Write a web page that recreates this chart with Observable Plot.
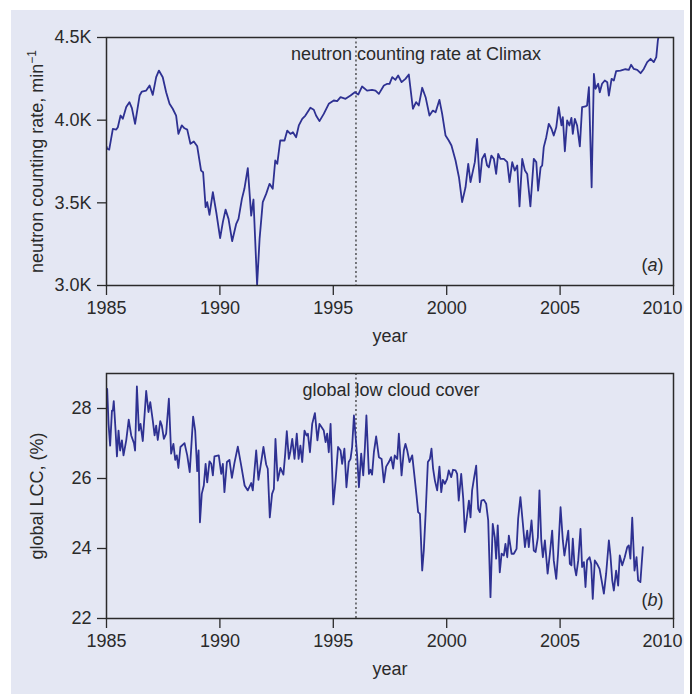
<!DOCTYPE html>
<html>
<head>
<meta charset="utf-8">
<script src="https://cdn.jsdelivr.net/npm/d3@7"></script>
<script src="https://cdn.jsdelivr.net/npm/@observablehq/plot@0.6"></script>
<style>
html, body { margin: 0; padding: 0; background: #ffffff; overflow: hidden; }
#page { position: relative; width: 699px; height: 694px; }
#bg { position: absolute; left: 11px; top: 10px; width: 673px; height: 684px; background: #e4e7f3; }
#edge { position: absolute; left: 690px; top: 0; width: 2px; height: 694px; background: #2b2b2b; }
.panel { position: absolute; left: 0; }
</style>
</head>
<body>
<div id="page">
  <div id="bg"></div>
  <div id="edge"></div>
  <div id="pa" class="panel" style="top:0px"></div>
  <div id="pb" class="panel" style="top:340px"></div>
</div>
<script>
// ---------- data ----------
const xTicks = [1985, 1990, 1995, 2000, 2005, 2010];
const xTickLabels = ["1985", "1990", "1995", "2000", "2005", "2010"];
const markerYear = [1996];

const yTicksA = [3000, 3500, 4000, 4500];
const yTickLabelsA = ["3.0K", "3.5K", "4.0K", "4.5K"];
const yTicksB = [22, 24, 26, 28];
const yTickLabelsB = ["22", "24", "26", "28"];

const titleA = "neutron counting rate at Climax";
const titleB = "global low cloud cover";
const yLabelA = "neutron counting rate, min";
const yLabelASup = "\u22121";
const yLabelB = "global LCC, (%)";
const xLabel = "year";
const tagA = "(a)";
const tagB = "(b)";

// neutron counting rate at Climax (counts per minute)
const neutronYear = [
  1985.00, 1985.03, 1985.12, 1985.28, 1985.43, 1985.50, 1985.62, 1985.72, 1985.87, 1986.01,
  1986.12, 1986.26, 1986.46, 1986.56, 1986.75, 1986.90, 1987.04, 1987.19, 1987.31, 1987.48,
  1987.63, 1987.78, 1987.92, 1988.07, 1988.17, 1988.32, 1988.44, 1988.56, 1988.70, 1988.85,
  1989.00, 1989.17, 1989.26, 1989.37, 1989.44, 1989.54, 1989.69, 1989.84, 1990.01, 1990.13,
  1990.25, 1990.38, 1990.54, 1990.72, 1990.82, 1990.97, 1991.08, 1991.23, 1991.38, 1991.48,
  1991.56, 1991.64, 1991.75, 1991.89, 1992.04, 1992.19, 1992.33, 1992.44, 1992.53, 1992.66,
  1992.85, 1992.97, 1993.11, 1993.22, 1993.36, 1993.48, 1993.63, 1993.77, 1993.99, 1994.14,
  1994.24, 1994.39, 1994.58, 1994.80, 1995.02, 1995.17, 1995.32, 1995.54, 1995.76, 1995.95,
  1996.10, 1996.27, 1996.49, 1996.71, 1996.86, 1997.01, 1997.23, 1997.38, 1997.48, 1997.60,
  1997.74, 1997.86, 1998.01, 1998.18, 1998.33, 1998.51, 1998.65, 1998.77, 1998.92, 1999.07,
  1999.24, 1999.39, 1999.51, 1999.68, 1999.80, 1999.95, 2000.09, 2000.21, 2000.39, 2000.54,
  2000.68, 2000.83, 2000.95, 2001.05, 2001.24, 2001.34, 2001.46, 2001.56, 2001.68, 2001.78,
  2001.86, 2001.97, 2002.08, 2002.18, 2002.27, 2002.37, 2002.52, 2002.67, 2002.77, 2002.89,
  2003.00, 2003.11, 2003.21, 2003.33, 2003.45, 2003.55, 2003.69, 2003.84, 2003.95, 2004.03,
  2004.14, 2004.21, 2004.28, 2004.39, 2004.50, 2004.62, 2004.72, 2004.83, 2004.94, 2005.06,
  2005.12, 2005.21, 2005.31, 2005.41, 2005.50, 2005.56, 2005.65, 2005.75, 2005.87, 2005.97,
  2006.12, 2006.19, 2006.27, 2006.39, 2006.49, 2006.56, 2006.68, 2006.75, 2006.85, 2006.97,
  2007.08, 2007.15, 2007.27, 2007.37, 2007.47, 2007.66, 2007.88, 2008.03, 2008.13, 2008.25,
  2008.40, 2008.55, 2008.69, 2008.84, 2008.99, 2009.13, 2009.24, 2009.31, 2009.35, 2009.45
];
const neutronRate = [
  3840, 3827, 3822, 3947, 3943, 3957, 4028, 4008, 4079, 4109,
  4073, 3978, 4149, 4173, 4179, 4210, 4153, 4260, 4300, 4260,
  4169, 4099, 4069, 4028, 3917, 3968, 3951, 3943, 3857, 3871,
  3842, 3695, 3685, 3474, 3504, 3427, 3564, 3443, 3286, 3383,
  3459, 3403, 3268, 3373, 3403, 3524, 3585, 3710, 3423, 3520,
  3262, 3004, 3282, 3504, 3554, 3615, 3585, 3756, 3736, 3877,
  3877, 3937, 3917, 3927, 3897, 3968, 4008, 4028, 4075, 4063,
  4028, 3994, 4038, 4099, 4119, 4115, 4139, 4129, 4149, 4169,
  4155, 4204, 4179, 4183, 4179, 4159, 4210, 4220, 4220, 4260,
  4244, 4270, 4230, 4250, 4276, 4069, 4109, 4089, 4196, 4139,
  4028, 4058, 4048, 4123, 4038, 3907, 3877, 3847, 3756, 3655,
  3504, 3594, 3736, 3625, 3746, 3887, 3625, 3766, 3796, 3726,
  3715, 3786, 3766, 3675, 3796, 3766, 3766, 3746, 3625, 3746,
  3695, 3726, 3478, 3766, 3695, 3675, 3478, 3766, 3746, 3574,
  3715, 3726, 3837, 3897, 3978, 3948, 3907, 3957, 4079, 3968,
  4018, 3812, 3998, 3968, 4014, 3917, 4008, 3968, 3841, 4079,
  4083, 4089, 4199, 3594, 4280, 4190, 4220, 4169, 4220, 4240,
  4230, 4149, 4250, 4240, 4296, 4300, 4308, 4304, 4335, 4310,
  4304, 4284, 4310, 4351, 4371, 4351, 4381, 4482, 4512, 4600
];

// global low cloud cover (%)
const lccYear = [
  1985.03, 1985.09, 1985.16, 1985.24, 1985.28, 1985.32, 1985.40, 1985.46, 1985.53, 1985.60,
  1985.68, 1985.75, 1985.87, 1985.98, 1986.09, 1986.21, 1986.26, 1986.34, 1986.43, 1986.50,
  1986.60, 1986.75, 1986.85, 1986.93, 1987.04, 1987.12, 1987.19, 1987.26, 1987.37, 1987.44,
  1987.53, 1987.63, 1987.75, 1987.85, 1987.95, 1988.03, 1988.10, 1988.17, 1988.26, 1988.44,
  1988.56, 1988.67, 1988.76, 1988.82, 1988.91, 1989.00, 1989.06, 1989.12, 1989.20, 1989.29,
  1989.37, 1989.44, 1989.54, 1989.62, 1989.69, 1989.76, 1989.95, 1990.06, 1990.13, 1990.20,
  1990.31, 1990.42, 1990.53, 1990.64, 1990.79, 1990.94, 1991.09, 1991.23, 1991.38, 1991.45,
  1991.60, 1991.70, 1991.92, 1992.04, 1992.11, 1992.20, 1992.30, 1992.38, 1992.45, 1992.55,
  1992.67, 1992.80, 1992.88, 1992.95, 1993.04, 1993.11, 1993.19, 1993.29, 1993.39, 1993.47,
  1993.55, 1993.63, 1993.73, 1993.82, 1993.88, 1993.97, 1994.07, 1994.19, 1994.30, 1994.39,
  1994.48, 1994.58, 1994.66, 1994.73, 1994.80, 1994.88, 1995.00, 1995.10, 1995.21, 1995.32,
  1995.39, 1995.49, 1995.58, 1995.68, 1995.76, 1995.83, 1995.91, 1995.98, 1996.05, 1996.13,
  1996.23, 1996.32, 1996.39, 1996.46, 1996.57, 1996.64, 1996.71, 1996.79, 1996.89, 1997.01,
  1997.13, 1997.23, 1997.33, 1997.45, 1997.55, 1997.64, 1997.71, 1997.82, 1997.89, 1998.01,
  1998.11, 1998.18, 1998.26, 1998.36, 1998.48, 1998.60, 1998.67, 1998.74, 1998.82, 1998.92,
  1998.99, 1999.07, 1999.17, 1999.26, 1999.33, 1999.40, 1999.48, 1999.58, 1999.68, 1999.76,
  1999.83, 1999.92, 2000.02, 2000.09, 2000.20, 2000.28, 2000.39, 2000.46, 2000.53, 2000.64,
  2000.73, 2000.80, 2000.87, 2000.98, 2001.05, 2001.12, 2001.20, 2001.30, 2001.39, 2001.46,
  2001.53, 2001.64, 2001.74, 2001.83, 2001.93, 2002.03, 2002.12, 2002.18, 2002.25, 2002.34,
  2002.42, 2002.52, 2002.59, 2002.67, 2002.74, 2002.86, 2002.96, 2003.08, 2003.15, 2003.25,
  2003.36, 2003.45, 2003.55, 2003.62, 2003.74, 2003.84, 2003.92, 2004.02, 2004.09, 2004.17,
  2004.24, 2004.33, 2004.45, 2004.55, 2004.65, 2004.72, 2004.83, 2004.91, 2005.02, 2005.12,
  2005.19, 2005.27, 2005.36, 2005.43, 2005.50, 2005.56, 2005.64, 2005.71, 2005.80, 2005.90,
  2005.97, 2006.05, 2006.12, 2006.19, 2006.30, 2006.37, 2006.44, 2006.53, 2006.63, 2006.74,
  2006.83, 2006.93, 2007.03, 2007.15, 2007.22, 2007.30, 2007.37, 2007.47, 2007.56, 2007.63,
  2007.74, 2007.85, 2007.96, 2008.03, 2008.10, 2008.18, 2008.28, 2008.37, 2008.44, 2008.54,
  2008.65
];
const lccValue = [
  28.56, 27.56, 26.94, 27.94, 27.94, 28.21, 27.37, 26.63, 27.37, 26.80,
  27.09, 26.66, 27.09, 27.68, 27.23, 27.01, 26.80, 28.63, 27.37, 27.56,
  27.07, 28.50, 27.90, 28.18, 27.66, 27.23, 27.51, 27.10, 27.64, 27.51,
  27.13, 27.28, 28.28, 26.71, 26.99, 26.53, 26.66, 26.30, 26.90, 27.01,
  26.66, 26.18, 27.13, 27.77, 27.37, 26.21, 26.80, 24.75, 25.56, 25.80,
  26.42, 25.89, 26.49, 26.42, 26.09, 26.63, 26.66, 26.13, 26.42, 25.61,
  26.47, 26.53, 26.02, 26.44, 26.91, 26.37, 25.80, 25.66, 25.87, 25.66,
  26.80, 25.96, 26.90, 26.40, 26.28, 24.89, 25.56, 25.70, 27.13, 25.94,
  26.30, 26.11, 26.71, 27.35, 26.56, 26.78, 27.13, 26.56, 27.28, 26.56,
  26.94, 26.47, 27.37, 27.23, 27.28, 26.75, 27.56, 27.87, 27.09, 27.56,
  27.47, 27.37, 27.04, 27.28, 26.75, 27.56, 25.26, 25.94, 26.90, 26.80,
  26.42, 26.85, 25.75, 26.47, 26.56, 26.90, 27.80, 27.23, 26.66, 25.75,
  26.71, 26.09, 26.85, 27.80, 26.13, 26.25, 26.11, 26.75, 27.20, 26.61,
  26.56, 25.89, 26.34, 26.47, 26.61, 26.28, 26.66, 26.56, 27.28, 26.09,
  26.80, 26.99, 26.80, 26.47, 26.66, 25.94, 25.51, 25.04, 24.99, 23.37,
  23.94, 24.99, 26.47, 26.56, 26.85, 26.28, 25.94, 25.66, 26.34, 25.61,
  25.96, 25.85, 25.99, 26.23, 26.04, 26.25, 26.23, 26.13, 25.37, 26.13,
  25.42, 24.47, 24.80, 25.37, 24.89, 25.66, 25.99, 26.37, 25.13, 25.04,
  25.37, 25.39, 25.28, 24.80, 22.61, 24.70, 24.32, 23.71, 24.66, 23.32,
  23.85, 23.80, 24.13, 23.75, 24.37, 23.85, 23.85, 23.99, 24.85, 25.47,
  24.70, 24.04, 24.51, 24.04, 24.80, 23.94, 23.90, 24.32, 25.66, 24.23,
  23.75, 24.23, 23.28, 23.85, 24.51, 23.66, 23.13, 23.85, 25.18, 24.23,
  23.80, 24.13, 24.51, 23.56, 23.52, 24.28, 23.47, 23.23, 23.66, 24.56,
  23.47, 23.61, 22.90, 23.66, 23.75, 23.56, 22.56, 23.66, 23.56, 23.42,
  23.09, 22.71, 23.28, 24.23, 23.80, 23.09, 22.80, 23.37, 22.94, 23.80,
  23.52, 23.75, 24.04, 24.09, 23.71, 24.88, 23.37, 23.75, 23.09, 23.04,
  24.04
];

// ---------- drawing ----------
const font = "'Liberation Sans', Arial, sans-serif";
const ink = "#2a2a2a";
const lineColor = "#2e3192";

const neutronData = neutronYear.map((y, i) => ({year: y, value: neutronRate[i]}));
const lccData = lccYear.map((y, i) => ({year: y, value: lccValue[i]}));

function panel(opts) {
  const {data, yDomain, yTicks, yLabels, height, marginTop, marginBottom, ylabel, title, titleDx, tag, tagDy, xlabDy} = opts;
  const fmtY = d => yLabels[yTicks.indexOf(d)];
  const fmtX = d => xTickLabels[xTicks.indexOf(d)];
  const lastTick = xTicks[xTicks.length - 1];
  const txt = {fontSize: 18, fill: ink, lineAnchor: "middle", text: d => d};
  return Plot.plot({
    width: 699,
    height,
    marginLeft: 106,
    marginRight: 26,
    marginTop,
    marginBottom,
    style: {background: "transparent", fontFamily: font, fontSize: "18px", color: ink, overflow: "visible"},
    x: {domain: [1985, 2010]},
    y: {domain: yDomain},
    marks: [
      Plot.ruleX(markerYear, {stroke: ink, strokeWidth: 1.2, strokeDasharray: "2,2.5"}),
      Plot.lineY(data, {x: "year", y: "value", stroke: lineColor, strokeWidth: 1.8, clip: true}),
      Plot.frame({stroke: ink, strokeWidth: 1.5}),
      Plot.axisX({ticks: xTicks, tickFormat: d => (d === lastTick ? "" : fmtX(d)), tickSize: 10, tickPadding: 6, fontSize: 18, strokeWidth: 1.3, label: null}),
      Plot.axisX({ticks: [lastTick], tickFormat: fmtX, tickSize: 0, tickPadding: 16, dx: -11, fontSize: 18, label: null}),
      Plot.axisY({ticks: yTicks, tickFormat: fmtY, tickSize: 9, tickPadding: 6, fontSize: 18, strokeWidth: 1.3, label: null}),
      Plot.text([ylabel], {...txt, frameAnchor: "left", textAnchor: "middle", dx: -69, rotate: -90}),
      Plot.text([xLabel], {...txt, frameAnchor: "bottom", textAnchor: "middle", dy: xlabDy}),
      Plot.text([title], {...txt, frameAnchor: "top", textAnchor: "middle", dx: titleDx, dy: 17}),
      Plot.text([tag], {...txt, frameAnchor: "bottom-right", textAnchor: "end", dx: -10, dy: tagDy})
    ]
  });
}

function italicTag(svg, tag) {
  d3.select(svg).selectAll("text").filter(function () { return this.textContent === tag; }).each(function () {
    const t = d3.select(this);
    t.text(null);
    t.append("tspan").text("(");
    t.append("tspan").attr("font-style", "italic").text(tag.slice(1, -1));
    t.append("tspan").text(")");
  });
}

const svgA = panel({
  data: neutronData, yDomain: [3000, 4500], yTicks: yTicksA, yLabels: yTickLabelsA,
  height: 345, marginTop: 37, marginBottom: 60, ylabel: yLabelA, title: titleA, titleDx: 26,
  tag: tagA, tagDy: -20, xlabDy: 51
});
italicTag(svgA, tagA);
d3.select(svgA).selectAll("text").filter(function () { return this.textContent === yLabelA; })
  .append("tspan").attr("dy", -7).attr("font-size", 12).text(yLabelASup);
document.getElementById("pa").appendChild(svgA);

const svgB = panel({
  data: lccData, yDomain: [22, 29], yTicks: yTicksB, yLabels: yTickLabelsB,
  height: 354, marginTop: 33, marginBottom: 76, ylabel: yLabelB, title: titleB, titleDx: 1,
  tag: tagB, tagDy: -18, xlabDy: 51
});
italicTag(svgB, tagB);
document.getElementById("pb").appendChild(svgB);
</script>
</body>
</html>
